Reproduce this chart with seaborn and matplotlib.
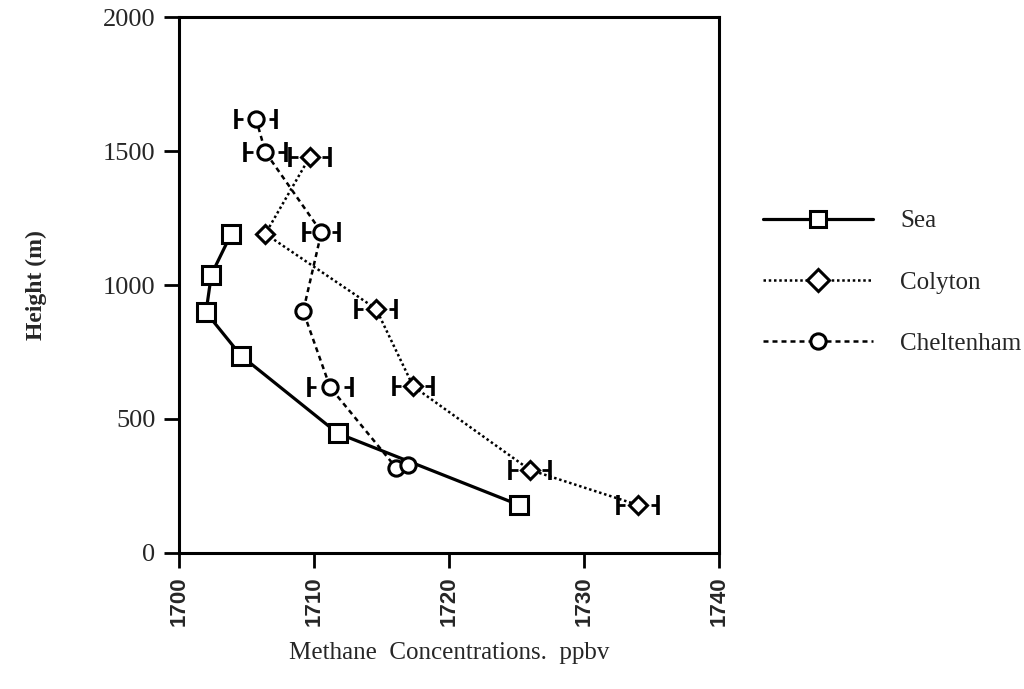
import matplotlib
matplotlib.use("Agg")
import matplotlib.pyplot as plt
import numpy as np
import pandas as pd
import seaborn as sns

# Methane profiles: concentration (ppbv) against height (m)
sea_ch4 = [1703.85, 1702.4, 1702.0, 1704.6, 1711.75, 1725.2]
sea_height = [1189, 1039, 898, 736, 447, 179]

colyton_ch4 = [1709.7, 1706.4, 1714.6, 1717.35, 1726.0, 1734.0]
colyton_height = [1479, 1191, 911, 622, 310, 179]
colyton_err = [1.45, 0.0, 1.5, 1.45, 1.45, 1.5]

cheltenham_ch4 = [1705.7, 1706.4, 1710.55, 1709.2, 1711.2, 1716.1, 1717.0]
cheltenham_height = [1621, 1496, 1197, 902, 618, 317, 329]
cheltenham_err = [1.5, 1.5, 1.3, 0.0, 1.6, 0.0, 0.0]

x_ticks = [1700, 1710, 1720, 1730, 1740]
y_ticks = [0, 500, 1000, 1500, 2000]

sns.set_theme(style="ticks")
plt.rcParams["font.family"] = ["Liberation Serif", "DejaVu Serif"]

fig = plt.figure(figsize=(10.24, 6.89), dpi=100)
ax = fig.add_axes([0.1748, 0.1974, 0.5273, 0.7779])

series = [
    ("Sea", sea_ch4, sea_height, None, "-", "s", 13, 2.3),
    ("Colyton", colyton_ch4, colyton_height, colyton_err, (0, (1, 1.1)), "D", 9, 1.8),
    ("Cheltenham", cheltenham_ch4, cheltenham_height, cheltenham_err, (0, (2, 1.6)), "o", 11, 1.8),
]

for name, xs, ys, errs, ls, mk, ms, lw in series:
    df = pd.DataFrame({"ch4": xs, "height": ys})
    sns.lineplot(data=df, x="ch4", y="height", sort=False, estimator=None,
                 color="black", linestyle=ls, linewidth=lw, marker=mk,
                 markersize=ms, markerfacecolor="white", markeredgecolor="black",
                 markeredgewidth=2.2, label=name, ax=ax, zorder=3)
    if errs is not None:
        xa = np.array(xs, dtype=float)
        ya = np.array(ys, dtype=float)
        ea = np.array(errs, dtype=float)
        m = ea > 0
        # caps only, with short stubs pointing toward the marker
        ax.errorbar(xa[m], ya[m], xerr=ea[m], fmt="none", ecolor="black",
                    elinewidth=0, capsize=7, capthick=2.6, zorder=4)
        stub = 0.55
        ax.hlines(ya[m], xa[m] - ea[m], xa[m] - ea[m] + stub, color="black",
                  linewidth=2.0, zorder=4)
        ax.hlines(ya[m], xa[m] + ea[m] - stub, xa[m] + ea[m], color="black",
                  linewidth=2.0, zorder=4)

ax.set_xlim(1700, 1740)
ax.set_ylim(0, 2000)
ax.set_xticks(x_ticks)
ax.set_yticks(y_ticks)
ax.set_xticklabels([str(t) for t in x_ticks], rotation=90,
                   family="Liberation Sans", fontweight="bold", fontsize=16)
ax.set_yticklabels([str(t) for t in y_ticks], fontsize=19)
ax.tick_params(axis="both", direction="out", length=11, width=2.0, color="black",
               pad=6)

for side in ["left", "right", "top", "bottom"]:
    ax.spines[side].set_visible(True)
    ax.spines[side].set_color("black")
    ax.spines[side].set_linewidth(2.2)

ax.set_xlabel("Methane  Concentrations.  ppbv", fontsize=18, labelpad=11)
ax.set_ylabel("Height (m)", fontsize=17, fontweight="bold", labelpad=40)

leg = ax.legend(loc="center left", bbox_to_anchor=(0.735, 0.59), bbox_transform=fig.transFigure,
                frameon=False, fontsize=18, handlelength=4.4, handletextpad=1.1,
                labelspacing=1.55, borderaxespad=0, numpoints=1)
for h in leg.legend_handles:
    h.set_markersize(11)

fig.savefig("out.png", dpi=100, facecolor="white")
